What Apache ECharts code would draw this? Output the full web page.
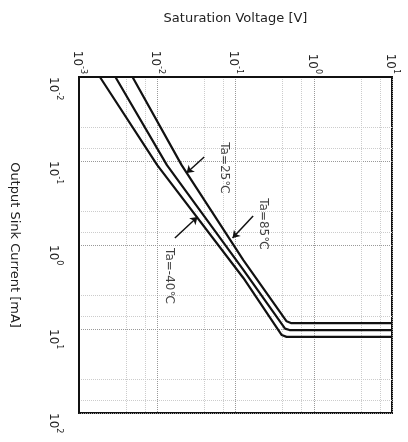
<!DOCTYPE html>
<html><head><meta charset="utf-8">
<script src="https://cdn.jsdelivr.net/npm/echarts@6/dist/echarts.min.js"></script>
<style>html,body{margin:0;padding:0;background:#fff}#c{width:408px;height:442px}</style>
</head><body><div id="c"></div>
<script>
// Saturation voltage [V] vs output sink current [mA]
var curveM40 = [[0.00185,0.01],[0.01,0.112],[0.126,2.47],[0.39,11.8],[0.45,12.4],[10,12.4]];
var curve25  = [[0.00292,0.01],[0.0133,0.112],[0.126,1.98],[0.43,9.9],[0.49,10.3],[10,10.3]];
var curve85  = [[0.00483,0.01],[0.0205,0.112],[0.126,1.51],[0.45,8.1],[0.51,8.5],[10,8.5]];
var xTickExp = {0.001:'-3',0.01:'-2',0.1:'-1',1:'0',10:'1'};
var yTickExp = {0.01:'-2',0.1:'-1',1:'0',10:'1',100:'2'};
var annoTexts = ['Ta=-40℃','Ta=25℃','Ta=85℃'];
var annoPos = [[0.0141,2.34],[0.0708,0.121],[0.224,0.562]];
var arrows = [
  [[0.0168,0.826],[0.0326,0.464]],
  [[0.0398,0.0895],[0.0237,0.139]],
  [[0.168,0.452],[0.0917,0.826]]
];

var ff = '"DejaVu Sans", sans-serif';
var rich = {
  m:{fontFamily:ff,fontSize:12,color:'#222',lineHeight:16,verticalAlign:'bottom'},
  s:{fontFamily:ff,fontSize:8,color:'#222',lineHeight:16,verticalAlign:'top'}
};
function fmt(map){
  return function(v){var e=map[+(+v).toPrecision(3)];return e===undefined?'':'{m|10}{s|'+e+'}';};
}
var chart = echarts.init(document.getElementById('c'));
function lineSeries(d){
  return {type:'line',data:d,symbol:'none',smooth:false,
    lineStyle:{color:'#111',width:2.2},z:3};
}
chart.setOption({
  animation:false,
  backgroundColor:'#fff',
  grid:{left:72,top:77,right:16,bottom:29,show:true,borderColor:'#111',borderWidth:2},
  xAxis:{type:'log',position:'top',min:0.001,max:10,logBase:10,
    name:'Saturation Voltage [V]',nameLocation:'middle',nameGap:52,
    nameTextStyle:{fontFamily:ff,fontSize:13,color:'#222'},
    axisLine:{show:true,lineStyle:{color:'#111',width:2}},
    axisTick:{show:false},
    axisLabel:{rotate:90,margin:3,showMinLabel:true,showMaxLabel:true,rich:rich,formatter:fmt(xTickExp)},
    splitLine:{show:true,lineStyle:{color:'#999',type:'dotted',width:1}},
    minorTick:{show:false,splitNumber:3},
    minorSplitLine:{show:true,lineStyle:{color:'#ccc',type:'dotted',width:1}}
  },
  yAxis:{type:'log',min:0.01,max:100,inverse:true,logBase:10,
    name:'Output Sink Current [mA]',nameLocation:'middle',nameGap:58,nameRotate:-90,
    nameTextStyle:{fontFamily:ff,fontSize:13,color:'#222'},
    axisLine:{show:true,lineStyle:{color:'#111',width:2}},
    axisTick:{show:false},
    axisLabel:{rotate:-90,margin:24,align:'left',verticalAlign:'middle',
      showMinLabel:true,showMaxLabel:true,rich:rich,formatter:fmt(yTickExp)},
    splitLine:{show:true,lineStyle:{color:'#999',type:'dotted',width:1}},
    minorTick:{show:false,splitNumber:3},
    minorSplitLine:{show:true,lineStyle:{color:'#ccc',type:'dotted',width:1}}
  },
  series:[
    lineSeries(curveM40),lineSeries(curve25),lineSeries(curve85),
    {type:'scatter',symbolSize:0,z:4,
     data:annoPos.map(function(p,i){return {value:p,name:annoTexts[i]};}),
     label:{show:true,position:'inside',rotate:-90,fontFamily:ff,fontSize:12,color:'#111',
       formatter:function(p){return p.name;}},
     markLine:{silent:true,symbol:['none','arrow'],symbolSize:7,
       lineStyle:{color:'#111',width:1.5,type:'solid'},label:{show:false},
       data:arrows.map(function(a){return [{coord:a[0]},{coord:a[1]}];})}
    }
  ]
});
</script></body></html>
